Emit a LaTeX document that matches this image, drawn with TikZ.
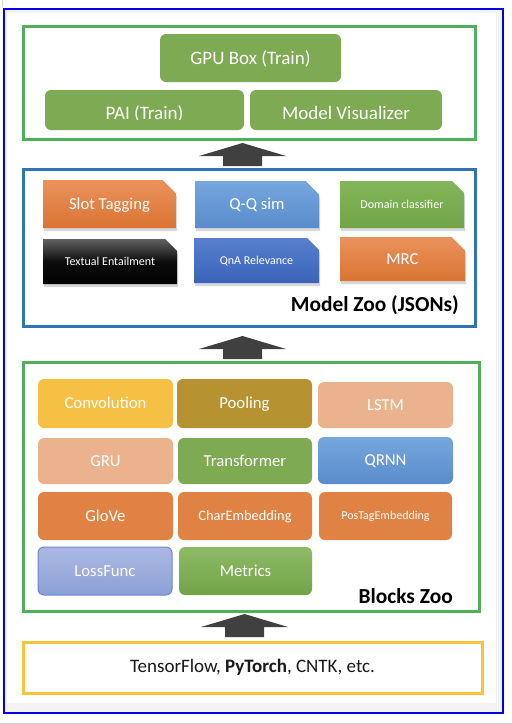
\documentclass[tikz,border=0pt]{standalone}
\usepackage{fontspec}
\setmainfont{Carlito}
\usetikzlibrary{shapes.misc,shadows,calc}

\definecolor{frgreen}{RGB}{80,175,90}
\definecolor{boxgreen}{RGB}{126,170,83}
\definecolor{mzblue}{RGB}{46,117,182}
\definecolor{fwyellow}{RGB}{250,195,60}
\definecolor{argray}{RGB}{64,64,64}
\definecolor{pageblue}{RGB}{0,0,230}
\definecolor{pagegray}{RGB}{243,243,243}
\definecolor{orTop}{RGB}{234,146,93}
\definecolor{orBot}{RGB}{218,116,50}
\definecolor{ltbTop}{RGB}{117,166,221}
\definecolor{ltbBot}{RGB}{90,140,205}
\definecolor{dkbTop}{RGB}{88,128,207}
\definecolor{dkbBot}{RGB}{58,98,184}
\definecolor{grTop}{RGB}{130,182,88}
\definecolor{grBot}{RGB}{112,164,70}
\definecolor{convY}{RGB}{245,192,67}
\definecolor{poolB}{RGB}{183,146,48}
\definecolor{peach}{RGB}{235,179,141}
\definecolor{glO}{RGB}{224,130,68}
\definecolor{lfTop}{RGB}{172,184,226}
\definecolor{lfBot}{RGB}{140,160,215}
\definecolor{lfBorder}{RGB}{105,138,208}
\definecolor{mtTop}{RGB}{142,186,102}
\definecolor{mtBot}{RGB}{114,164,72}

\newcommand\mkbox[7]{\node[#1,minimum width={#5-#3},minimum height={#6-#4}] (#2) at ({(#3+#5)/2},{(#4+#6)/2}) {#7};}
\newcommand\blockarrow[1]{\fill[argray] ($(#1)+(-19.5,0)$) -- ++(0,-10) -- ++(-24,0) -- ($(#1)+(0,-23)$) -- ($(#1)+(43.5,-10)$) -- ++(-24,0) -- ($(#1)+(19.5,0)$) -- cycle;}

\tikzset{
  lbl/.style={text=white, inner sep=0pt, outer sep=0pt, text depth=0pt, align=center},
  rbox/.style={lbl, rounded corners=6pt},
  snip/.style={lbl, chamfered rectangle, chamfered rectangle corners=north east,
    chamfered rectangle xsep=9pt, chamfered rectangle ysep=8pt,
    drop shadow={shadow xshift=1pt,shadow yshift=-3pt,opacity=0.3}},
  frame/.style={draw, line width=3pt, inner sep=0pt, outer sep=0pt},
  fbig/.style={font=\fontsize{19}{22}\selectfont, text height=12.2pt},
  fmid/.style={font=\fontsize{16.7}{20}\selectfont, text height=10.7pt},
  fchar/.style={font=\fontsize{14.4}{17}\selectfont, text height=9.3pt},
  fsmall/.style={font=\fontsize{12}{14}\selectfont, text height=7.7pt},
  zoolbl/.style={font=\fontsize{21.4}{25}\selectfont\bfseries, text=black, inner sep=0pt, anchor=east},
}

\begin{document}
\begin{tikzpicture}[x=1pt,y=-1pt]
\useasboundingbox (0,0) rectangle (512,724);
% page
\fill[pagegray] (4,9) rectangle (503,713);
\fill[white] (7,13) rectangle (496,703);
\draw[pageblue, line width=1.2pt] (4,9) rectangle (503,713);
\draw[black!20, line width=1pt] (0,723.5) -- (512,723.5);
\draw[black!15, line width=0.8pt] (2,0) -- (2,7);

% top frame
\mkbox{frame, draw=frgreen}{top}{23}{26}{475}{139}{}
\mkbox{rbox, fill=boxgreen, fbig}{gpu}{160}{34}{341}{82}{GPU Box (Train)}
\mkbox{rbox, fill=boxgreen}{pai}{45}{90}{244}{130}{}
\mkbox{rbox, fill=boxgreen}{mv}{250}{90}{442}{130}{}
\begin{scope}
  \clip (40,85) rectangle (250,119.5);
  \node[font=\fontsize{19}{22}\selectfont, text=white, inner sep=0pt, anchor=base] (paitxt) at (144.5,119.5) {PAI (Train)};
\end{scope}
\node[font=\fontsize{19}{22}\selectfont, text=white, inner sep=0pt, anchor=base] (mvtxt) at (346,119.5) {Model Visualizer};

% model zoo
\mkbox{frame, draw=mzblue}{mz}{23}{169}{475}{326}{}
\mkbox{snip, top color=orTop, bottom color=orBot, fmid}{slot}{43}{180}{176}{228}{Slot Tagging}
\mkbox{snip, top color=ltbTop, bottom color=ltbBot, fmid}{qq}{195}{181}{319}{228}{Q-Q sim}
\mkbox{snip, top color=grTop, bottom color=grBot, fsmall}{dom}{340}{181}{464}{228}{Domain classifier}
\mkbox{snip, top color=black!62, bottom color=black, middle color=black!95, fsmall}{te}{43}{239}{177}{284}{Textual Entailment}
\mkbox{snip, top color=dkbTop, bottom color=dkbBot, fsmall}{qna}{194}{238}{319}{283}{QnA Relevance}
\mkbox{snip, top color=orTop, bottom color=orBot, fmid}{mrc}{340}{237}{465}{281}{MRC}
\node[zoolbl] (mzlbl) at (459,305) {Model Zoo (JSONs)};

% blocks zoo
\mkbox{frame, draw=frgreen}{bz}{23}{362}{479}{611}{}
\mkbox{rbox, fill=convY, fmid}{conv}{38}{379}{173}{428}{Convolution}
\mkbox{rbox, fill=poolB, fmid}{pool}{177}{379}{312}{428}{Pooling}
\mkbox{rbox, fill=peach, fmid}{lstm}{318}{382}{453}{428}{LSTM}
\mkbox{rbox, fill=peach, fmid}{gru}{38}{438}{173}{484}{GRU}
\mkbox{rbox, fill=boxgreen, fmid}{trans}{178}{438}{312}{484}{Transformer}
\mkbox{rbox, top color=ltbTop, bottom color=ltbBot, fmid}{qrnn}{318}{437}{453}{484}{QRNN}
\mkbox{rbox, fill=glO, fmid}{glove}{38}{492}{173}{540}{GloVe}
\mkbox{rbox, fill=glO, fchar}{char}{178}{492}{312}{540}{CharEmbedding}
\mkbox{rbox, fill=glO, fsmall}{pos}{319}{492}{452}{540}{PosTagEmbedding}
\mkbox{rbox, top color=lfTop, bottom color=lfBot, draw=lfBorder, line width=1pt, fmid}{loss}{38}{547}{172}{595}{LossFunc}
\mkbox{rbox, top color=mtTop, bottom color=mtBot, fmid}{metr}{179}{547}{312}{595}{Metrics}
\node[zoolbl] (bzlbl) at (453,596) {Blocks Zoo};

% frameworks
\mkbox{frame, draw=fwyellow, fbig, text=black!90}{fw}{23}{642}{482}{693}{TensorFlow, \textbf{PyTorch}, CNTK, etc.}

% arrows
\coordinate (a1) at ($(mz.north)+(-6.5,-3)$);
\coordinate (a2) at ($(bz.north)+(-8.5,-3)$);
\coordinate (a3) at ($(fw.north)+(-8,-5)$);
\blockarrow{a1}
\blockarrow{a2}
\blockarrow{a3}
\end{tikzpicture}
\end{document}
